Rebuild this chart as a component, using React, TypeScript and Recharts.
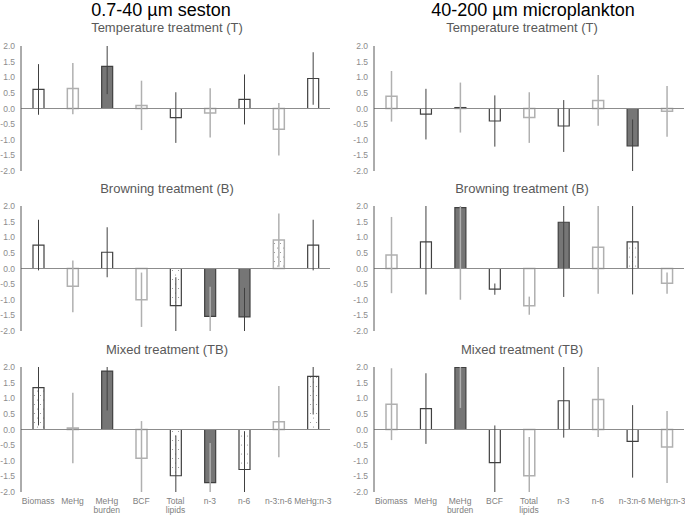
import { BarChart, Bar, XAxis, YAxis, ReferenceLine, ErrorBar, Cell } from 'recharts';

const categories = ['Biomass', 'MeHg', 'MeHg burden', 'BCF', 'Total lipids', 'n-3', 'n-6', 'n-3:n-6', 'MeHg:n-3'];
const yTicks = [-2, -1.5, -1, -0.5, 0, 0.5, 1, 1.5, 2];

// 0.7-40 um seston
const sestonT = [0.61, 0.64, 1.35, 0.1, -0.29, -0.14, 0.29, -0.66, 0.96];
const sestonTErr = [0.81, 0.82, 0.89, 0.79, 0.81, 0.79, 0.8, 0.84, 0.84];
const sestonTKind = ['open', 'open', 'filled', 'open', 'open', 'open', 'open', 'open', 'open'];

const sestonB = [0.75, -0.57, 0.52, -1.0, -1.19, -1.53, -1.55, 0.91, 0.75];
const sestonBErr = [0.81, 0.83, 0.8, 0.87, 0.91, 0.95, 0.93, 0.85, 0.81];
const sestonBKind = ['open', 'open', 'open', 'open', 'dotted', 'filled', 'filled', 'dotted', 'open'];

const sestonTB = [1.34, 0.05, 1.87, -0.92, -1.48, -1.7, -1.28, 0.25, 1.7];
const sestonTBErr = [1.21, 1.13, 1.26, 1.19, 1.29, 1.27, 1.22, 1.14, 1.22];
const sestonTBKind = ['dotted', 'open', 'filled', 'open', 'dotted', 'filled', 'dotted', 'open', 'dotted'];

// 40-200 um microplankton
const microT = [0.39, -0.18, 0.03, -0.4, -0.29, -0.56, 0.26, -1.2, -0.09];
const microTErr = [0.81, 0.81, 0.8, 0.82, 0.81, 0.83, 0.81, 0.85, 0.81];
const microTKind = ['open', 'open', 'filled', 'open', 'open', 'open', 'open', 'filled', 'open'];

const microB = [0.43, 0.85, 1.95, -0.66, -1.19, 1.48, 0.68, 0.85, -0.47];
const microBErr = [1.22, 1.68, 2.95, 0.18, 0.29, 2.39, 1.49, 1.68, 0.34];
const microBKind = ['open', 'open', 'filled', 'open', 'open', 'filled', 'open', 'dotted', 'open'];

const microTB = [0.81, 0.67, 1.99, -1.06, -1.48, 0.92, 0.96, -0.38, -0.56];
const microTBErr = [1.15, 1.13, 1.3, 1.19, 1.24, 1.18, 1.2, 1.16, 1.15];
const microTBKind = ['open', 'open', 'filled', 'open', 'open', 'open', 'open', 'open', 'open'];

const DARK = '#404040';
const LIGHT = '#b0b0b0';

function XTick(props: any) {
  const { x, y, payload } = props;
  const words = String(payload.value).split(' ');
  return (
    <text x={x} y={y} textAnchor="middle" fill="#808080" fontSize={8.5}>
      {words.map((w, i) => (
        <tspan key={i} x={x} dy={i === 0 ? 11.5 : 9}>{w}</tspan>
      ))}
    </text>
  );
}

function Panel({ values, errors, kinds, side, showX, top }: any) {
  const left = side === 'left';
  const data = categories.map((name, i) => {
    const v = values[i];
    const e = errors[i];
    const err = [Math.min(e, v + 2), Math.min(e, 2 - v)];
    const dark = (i % 2 === 0) === left;
    return { name, value: v, errDark: dark ? err : null, errLight: dark ? null : err, kind: kinds[i], dark };
  });
  const width = left ? 340 : 345;
  return (
    <div style={{ position: 'absolute', left: left ? 0 : 340, top }}>
      <BarChart
        width={width}
        height={showX ? 153 : 135}
        data={data}
        margin={{ top: 5, right: left ? 10 : 1, bottom: 5, left: 0 }}
        barSize={11}
      >
        <XAxis
          dataKey="name"
          hide={!showX}
          axisLine={false}
          tickLine={false}
          tickSize={0}
          tickMargin={0}
          height={showX ? 18 : 0}
          interval={0}
          tick={<XTick />}
        />
        <YAxis
          type="number"
          domain={[-2, 2]}
          ticks={yTicks}
          allowDataOverflow
          width={left ? 21 : 34}
          tickLine={false}
          tickSize={0}
          tickMargin={6}
          axisLine={{ stroke: '#595959' }}
          tick={{ fill: '#8c8c8c', fontSize: 8.5 }}
          tickFormatter={(v: number) => v.toFixed(1)}
          interval={0}
        />
        <ReferenceLine y={0} stroke="#8c8c8c" />
        <Bar dataKey="value" isAnimationActive={false}>
          {data.map((d, i) => (
            <Cell
              key={i}
              fill={d.kind === 'filled' ? '#767676' : d.kind === 'dotted' ? 'url(#dots)' : '#ffffff'}
              stroke={d.kind === 'filled' || d.dark ? DARK : LIGHT}
              strokeWidth={d.kind === 'filled' || d.dark ? 1.2 : 1.5}
            />
          ))}
          <ErrorBar dataKey="errDark" width={0} stroke={DARK} strokeWidth={1} direction="y" />
          <ErrorBar dataKey="errLight" width={0} stroke={LIGHT} strokeWidth={1.5} direction="y" />
        </Bar>
      </BarChart>
    </div>
  );
}

function Title({ text, cx, top, size, color }: any) {
  return (
    <div
      style={{
        position: 'absolute',
        left: cx - 150,
        top,
        width: 300,
        textAlign: 'center',
        fontSize: size,
        lineHeight: `${size + 2}px`,
        color,
        whiteSpace: 'nowrap',
      }}
    >
      {text}
    </div>
  );
}

export default function App() {
  return (
    <div
      style={{
        position: 'absolute',
        left: 0,
        top: 0,
        width: 685,
        height: 515,
        background: '#fff',
        fontFamily: '"Liberation Sans", Arial, sans-serif',
        overflow: 'hidden',
      }}
    >
      <svg width={0} height={0} style={{ position: 'absolute' }}>
        <defs>
          <pattern id="dots" patternUnits="userSpaceOnUse" width={6} height={9}>
            <rect width={6} height={9} fill="#ffffff" />
            <circle cx={1.5} cy={2} r={0.55} fill="#8a8a8a" />
            <circle cx={4.5} cy={6.5} r={0.55} fill="#8a8a8a" />
          </pattern>
        </defs>
      </svg>

      <Title text="0.7-40 µm seston" cx={161} top={0} size={18} color="#000" />
      <Title text="40-200 µm microplankton" cx={533} top={0} size={18} color="#000" />

      <Title text="Temperature treatment (T)" cx={167} top={20} size={13} color="#595959" />
      <Title text="Temperature treatment (T)" cx={522} top={20} size={13} color="#595959" />
      <Title text="Browning treatment (B)" cx={167} top={181} size={13} color="#595959" />
      <Title text="Browning treatment (B)" cx={522} top={181} size={13} color="#595959" />
      <Title text="Mixed treatment (TB)" cx={167} top={342} size={13} color="#595959" />
      <Title text="Mixed treatment (TB)" cx={522} top={342} size={13} color="#595959" />

      <Panel values={sestonT} errors={sestonTErr} kinds={sestonTKind} side="left" top={40.5} />
      <Panel values={microT} errors={microTErr} kinds={microTKind} side="right" top={40.5} />
      <Panel values={sestonB} errors={sestonBErr} kinds={sestonBKind} side="left" top={201} />
      <Panel values={microB} errors={microBErr} kinds={microBKind} side="right" top={201} />
      <Panel values={sestonTB} errors={sestonTBErr} kinds={sestonTBKind} side="left" top={361.6} showX />
      <Panel values={microTB} errors={microTBErr} kinds={microTBKind} side="right" top={361.6} showX />
    </div>
  );
}
